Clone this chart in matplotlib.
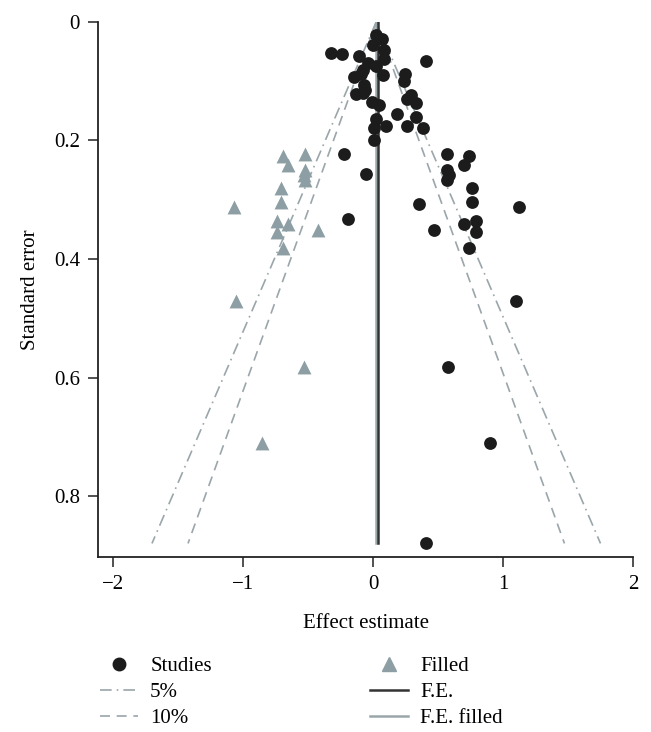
import matplotlib
matplotlib.use('Agg')
import matplotlib.pyplot as plt
from matplotlib.lines import Line2D
import numpy as np

plt.rcParams['font.family'] = ['Liberation Serif', 'DejaVu Serif']

# observed studies (effect estimate, standard error)
studies_x = [0.02, 0.07, 0.00, 0.085, -0.32, -0.24, -0.11, 0.085, 0.405, -0.04,
             0.02, -0.08, -0.095, 0.077, -0.146, 0.246, 0.238, -0.07, -0.06, -0.133,
             -0.08, 0.29, 0.264, 0.328, -0.005, 0.046, 0.187, 0.333, 0.02, 0.008,
             0.098, 0.26, 0.385, 0.008, -0.223, -0.05, 0.57, 0.74, 0.70, 0.57,
             0.585, 0.57, 0.76, 0.76, 0.354, 1.12, -0.19, 0.47, 0.70, 0.795,
             0.79, 0.74, 1.10, 0.58, 0.90, 0.41]
studies_se = [0.022, 0.028, 0.039, 0.047, 0.053, 0.054, 0.057, 0.063, 0.066, 0.070,
              0.075, 0.081, 0.087, 0.089, 0.093, 0.088, 0.100, 0.106, 0.115, 0.122,
              0.120, 0.123, 0.130, 0.137, 0.135, 0.140, 0.155, 0.161, 0.163, 0.179,
              0.175, 0.175, 0.179, 0.199, 0.222, 0.257, 0.222, 0.227, 0.241, 0.250,
              0.258, 0.267, 0.281, 0.303, 0.307, 0.312, 0.332, 0.351, 0.341, 0.336,
              0.355, 0.382, 0.471, 0.583, 0.710, 0.879]

# trim-and-fill imputed studies
filled_x = [-0.52, -0.69, -0.65, -0.52, -0.53, -0.52, -0.71, -0.71, -1.07,
            -0.65, -0.74, -0.74, -0.42, -0.69, -1.05, -0.53, -0.85]
filled_se = [0.222, 0.227, 0.241, 0.250, 0.258, 0.267, 0.281, 0.303, 0.312,
             0.341, 0.336, 0.355, 0.351, 0.382, 0.471, 0.583, 0.710]

fe = 0.04          # fixed effect, observed studies
fe_filled = 0.025  # fixed effect incl. filled studies
se_max = 0.88

grey = '#9aa6aa'
tri_col = '#8d9fa4'
dark = '#1c1c1c'

fig = plt.figure(figsize=(6.51, 7.32), dpi=100)
ax = fig.add_axes([0.1505, 0.239, 0.8219, 0.731])

se_line = np.array([0, se_max])
ax.plot(fe_filled - 1.96 * se_line, se_line, color=grey, lw=1.2, ls=(0, (7, 3, 1, 3)))
ax.plot(fe_filled + 1.96 * se_line, se_line, color=grey, lw=1.2, ls=(0, (7, 3, 1, 3)))
ax.plot(fe_filled - 1.645 * se_line, se_line, color=grey, lw=1.2, ls=(0, (6, 4)))
ax.plot(fe_filled + 1.645 * se_line, se_line, color=grey, lw=1.2, ls=(0, (6, 4)))
ax.plot([fe_filled, fe_filled], se_line, color=grey, lw=1.8)
ax.plot([fe, fe], se_line, color='#333333', lw=1.8)

ax.scatter(studies_x, studies_se, s=85, color=dark, zorder=3, linewidths=0)
ax.scatter(filled_x, filled_se, s=100, marker='^', color=tri_col, zorder=3, linewidths=0)

ax.set_xlim(-2.115, 2.0)
ax.set_ylim(0.903, 0)
ax.set_xticks([-2, -1, 0, 1, 2])
ax.set_xticklabels(['\u22122', '\u22121', '0', '1', '2'])
ax.set_yticks([0, 0.2, 0.4, 0.6, 0.8])
ax.set_yticklabels(['0', '0.2', '0.4', '0.6', '0.8'])
for s in ['top', 'right']:
    ax.spines[s].set_visible(False)
for s in ['left', 'bottom']:
    ax.spines[s].set_linewidth(1.3)
    ax.spines[s].set_color('#222222')
ax.tick_params(length=7, width=1.1, labelsize=15, pad=6, color='#222222')
ax.set_xlabel('Effect estimate', fontsize=15, labelpad=14)
ax.set_ylabel('Standard error', fontsize=15, labelpad=10)

handles = [
    Line2D([], [], ls='none', marker='o', ms=9, color=dark),
    Line2D([], [], color=grey, lw=1.2, ls=(0, (7, 3, 1, 3))),
    Line2D([], [], color=grey, lw=1.2, ls=(0, (6, 4))),
    Line2D([], [], ls='none', marker='^', ms=10, color=tri_col),
    Line2D([], [], color='#333333', lw=1.8),
    Line2D([], [], color=grey, lw=1.8),
]
labels = ['Studies', '5%', '10%', 'Filled', 'F.E.', 'F.E. filled']
fig.legend(handles, labels, ncol=2, loc='upper left',
           bbox_to_anchor=(0.125, 1 - 638 / 732), bbox_transform=fig.transFigure,
           frameon=False, fontsize=15, handlelength=1.8, handletextpad=0.6,
           columnspacing=7.6, labelspacing=0.3)

fig.savefig('out.png', dpi=100)
